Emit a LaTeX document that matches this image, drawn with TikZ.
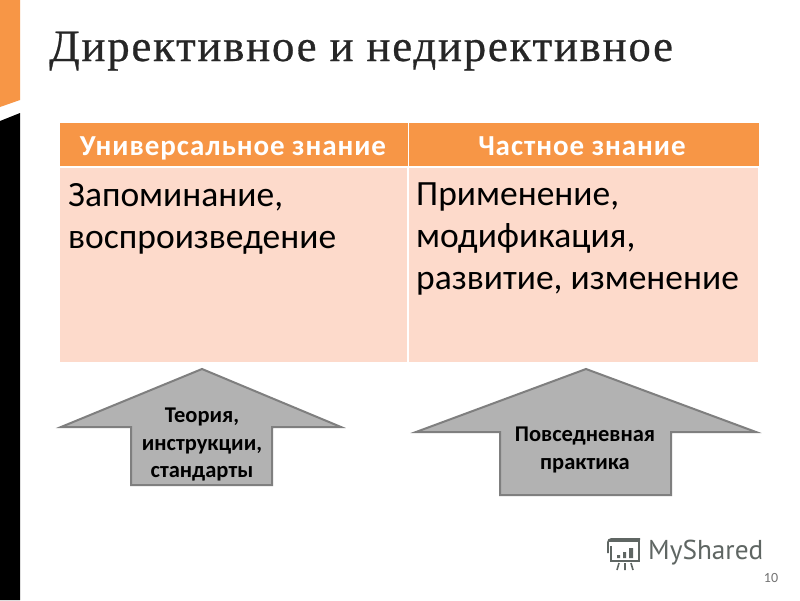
\documentclass[tikz,border=0pt]{standalone}
\usepackage{fontspec}
\setmainfont{Carlito}
\newfontfamily\titlefont[LetterSpace=4,FakeBold=0.6]{Liberation Serif}
\newfontfamily\headfont[LetterSpace=3.3]{Carlito}
\newfontfamily\logofont{PT Sans}
\definecolor{orangeA}{HTML}{F79646}
\definecolor{headA}{HTML}{F79646}
\definecolor{cellA}{HTML}{FDDACB}
\definecolor{arrowA}{HTML}{B2B2B2}
\definecolor{arrowB}{HTML}{7F7F7F}
\definecolor{logoA}{HTML}{5F6663}
\tikzset{
  headcell/.style={fill=headA,draw=none},
  bodycell/.style={fill=cellA,draw=none},
  headtext/.style={text=white,font=\headfont\fontsize{29}{32}\selectfont\bfseries,inner sep=0pt,anchor=base},
  bodytext/.style={text=black,font=\fontsize{35.5}{42}\selectfont,inner sep=0pt,anchor=north west,align=left},
  arrowshape/.style={fill=arrowA,draw=arrowB,line width=2pt,line join=miter},
  arrowtext/.style={text=black,font=\fontsize{22.5}{27.5}\selectfont\bfseries,inner sep=0pt,align=center},
  logopart/.style={draw=logoA,line width=2pt}
}
\begin{document}
\begin{tikzpicture}[x=1pt,y=-1pt]
\useasboundingbox (0,0) rectangle (800,600);
\fill[white] (0,0) rectangle (800,600);
% side stripes
\fill[orangeA] (0,0) -- (20,0) -- (20,100) -- (0,107) -- cycle;
\fill[black] (0,121) -- (20,113) -- (20,600) -- (0,600) -- cycle;
% title
\node[anchor=base west,inner sep=0pt,font=\titlefont\fontsize{44.8}{50}\selectfont,text=black!85] (title) at (49,61) {Директивное и недирективное};
% table
\fill[headcell] (60,123) rectangle (407.5,166);
\fill[headcell] (408.5,123) rectangle (759,166);
\fill[bodycell] (60,168) rectangle (407,362);
\fill[bodycell] (409,168) rectangle (758,362);
\node[headtext] (h1) at (233,155) {Универсальное знание};
\node[headtext] (h2) at (582,155) {Частное знание};
\node[bodytext] (b1) at (68,183) {Запоминание,\\воспроизведение};
\node[bodytext] (b2) at (416,183) {Применение,\\модификация,\\развитие, изменение};
% arrows
\draw[arrowshape] (202,369) -- (341,427) -- (272,427) -- (272,485) -- (131,485) -- (131,427) -- (61,427) -- cycle;
\node[arrowtext] (a1) at (202,445) {Теория,\\инструкции,\\стандарты};
\draw[arrowshape] (586,369) -- (756,432) -- (671,432) -- (671,495) -- (500,495) -- (500,432) -- (416,432) -- cycle;
\node[arrowtext] (a2) at (585,450) {Повседневная\\практика};
% logo
\draw[logopart] (609,541) -- (639,541) -- (639,561) -- (611,561) -- (611,546);
\draw[logopart,line width=1.6pt] (608,553) -- (608,542) arc[start angle=180,end angle=90,radius=3pt] -- (640,539);
\fill[logoA] (617,555) rectangle (620,558) (623,552) rectangle (626,558) (629,548) rectangle (633,558);
\draw[logopart,line width=1.6pt] (619,563) -- (617,570) (625,563) -- (625,570) (631,563) -- (633,570);
\node[anchor=west,inner sep=0pt,font=\logofont\fontsize{27.3}{32}\selectfont,text=logoA] (logo) at (648,553) {MyShared};
\node[inner sep=0pt,font=\fontsize{14}{16}\selectfont,text=black!55] (page) at (771,578) {10};
\end{tikzpicture}
\end{document}
